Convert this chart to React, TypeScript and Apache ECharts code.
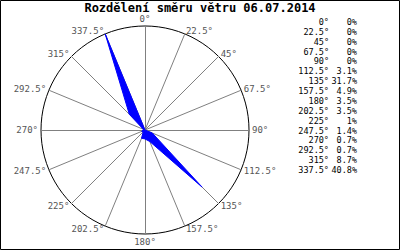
import React, { useEffect, useRef } from "react";
import * as echarts from "echarts";

const titleText = "Rozdělení směru větru 06.07.2014";
const directions = [0, 22.5, 45, 67.5, 90, 112.5, 135, 157.5, 180, 202.5, 225, 247.5, 270, 292.5, 315, 337.5];
const percents = [0, 0, 0, 0, 0, 3.1, 31.7, 4.9, 3.5, 3.5, 1, 1.4, 0.7, 0.7, 8.7, 40.8];

export default function App() {
  const ref = useRef<HTMLDivElement>(null);
  useEffect(() => {
    document.body.style.margin = "0";
    const chart = echarts.init(ref.current!, null, { renderer: "svg" });
    const n = directions.length;
    const order = directions.map((_, i) => (n - i) % n);
    const maxVal = Math.max(...percents);
    const mono = "DejaVu Sans Mono";
    const rowY0 = 22;
    const rowStep = 9.87;
    const tableTexts: any[] = [];
    directions.forEach((d, i) => {
      tableTexts.push({
        type: "text",
        x: 329,
        y: rowY0 + i * rowStep,
        style: { text: d + "°", fill: "#000", font: `8.5px '${mono}'`, align: "right", verticalAlign: "middle" },
      });
      tableTexts.push({
        type: "text",
        x: 357,
        y: rowY0 + i * rowStep,
        style: { text: percents[i] + "%", fill: "#000", font: `8.5px '${mono}'`, align: "right", verticalAlign: "middle" },
      });
    });
    chart.setOption({
      animation: false,
      backgroundColor: "#fff",
      title: {
        text: titleText,
        left: "center",
        top: 2,
        padding: 0,
        textStyle: { fontFamily: mono, fontWeight: "bold", fontSize: 12, lineHeight: 12, color: "#000" },
      },
      radar: {
        center: [145, 130],
        radius: 104,
        shape: "circle",
        startAngle: 90,
        splitNumber: 1,
        nameGap: 3,
        axisName: { color: "#555", fontFamily: mono, fontSize: 9 },
        axisLine: { lineStyle: { color: "#808080", width: 1 } },
        splitLine: { lineStyle: { color: "#000", width: 1 } },
        splitArea: { show: false },
        axisTick: { show: false },
        indicator: order.map((j) => ({ name: directions[j] + "°", max: maxVal, min: 0 })),
      },
      series: [
        {
          type: "radar",
          symbol: "none",
          lineStyle: { color: "#0000ff", width: 1 },
          areaStyle: { color: "#0000ff", opacity: 1 },
          data: [{ value: order.map((j) => percents[j]) }],
        },
      ],
      graphic: [
        {
          type: "rect",
          shape: { x: 0.5, y: 0.5, width: 399, height: 249 },
          style: { fill: "none", stroke: "#000", lineWidth: 1 },
          silent: true,
        },
        ...tableTexts,
      ],
    });
    return () => chart.dispose();
  }, []);
  return <div ref={ref} style={{ width: 400, height: 250 }} />;
}
